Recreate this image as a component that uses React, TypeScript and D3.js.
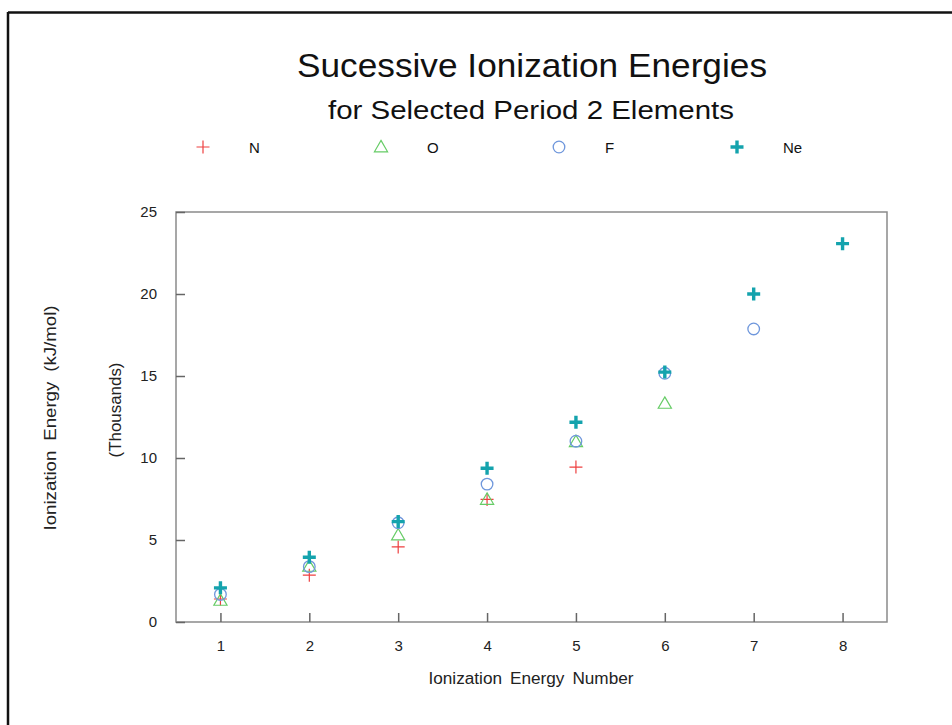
import React, { useRef, useEffect } from "react";
import { select, scaleLinear, axisBottom, axisLeft, symbol, symbolTriangle } from "d3";

// successive ionization energies, thousands of kJ/mol
const ionNumbers = [1, 2, 3, 4, 5, 6, 7, 8];
const nitrogen = [1.402, 2.856, 4.578, 7.475, 9.445];
const oxygen = [1.314, 3.388, 5.3, 7.469, 10.99, 13.327];
const fluorine = [1.681, 3.374, 6.05, 8.408, 11.023, 15.164, 17.868];
const neon = [2.081, 3.952, 6.122, 9.371, 12.177, 15.238, 19.999, 23.069];
const seriesNames = ["N", "O", "F", "Ne"];
const yTicks = [0, 5, 10, 15, 20, 25];

const FONT = "'Liberation Sans', Arial, Helvetica, sans-serif";
const colors = { N: "#ee4040", O: "#66cc66", F: "#6f97dc", Ne: "#14a3ad" };

const App = () => {
  const svgRef = useRef(null);

  useEffect(() => {
    const svg = select(svgRef.current);
    svg.selectAll("*").remove();

    const width = 952;
    const height = 725;
    const margin = { left: 176, right: 65, top: 212, bottom: 103 };

    // outer frame (only top + left show)
    svg.append("line").attr("x1", 8).attr("x2", width).attr("y1", 12.5).attr("y2", 12.5)
      .attr("stroke", "#111").attr("stroke-width", 2.5);
    svg.append("line").attr("x1", 8).attr("x2", 8).attr("y1", 12).attr("y2", height)
      .attr("stroke", "#111").attr("stroke-width", 2.5);

    // titles
    svg.append("text").attr("x", 532).attr("y", 77).attr("text-anchor", "middle")
      .style("font-family", FONT).style("font-size", "33px").attr("fill", "#111")
      .attr("textLength", 470).attr("lengthAdjust", "spacingAndGlyphs")
      .text("Sucessive Ionization Energies");
    svg.append("text").attr("x", 531).attr("y", 119).attr("text-anchor", "middle")
      .style("font-family", FONT).style("font-size", "26px").attr("fill", "#111")
      .attr("textLength", 406).attr("lengthAdjust", "spacingAndGlyphs")
      .text("for Selected Period 2 Elements");

    const xScale = scaleLinear().domain([0.5, 8.5]).range([margin.left, width - margin.right]);
    const yScale = scaleLinear().domain([0, 25]).range([height - margin.bottom, margin.top]);

    const plotW = width - margin.right - margin.left;
    const plotH = height - margin.bottom - margin.top;

    // plot box
    svg.append("rect").attr("x", margin.left).attr("y", margin.top)
      .attr("width", plotW).attr("height", plotH)
      .attr("fill", "none").attr("stroke", "#8a8a8a").attr("stroke-width", 1.5);

    // axes with inward ticks
    const xAxis = svg.append("g")
      .attr("transform", `translate(0,${height - margin.bottom})`)
      .call(axisBottom(xScale).tickValues(ionNumbers).tickSizeInner(-9).tickSizeOuter(0).tickPadding(18));
    const yAxis = svg.append("g")
      .attr("transform", `translate(${margin.left},0)`)
      .call(axisLeft(yScale).tickValues(yTicks).tickSizeInner(-9).tickSizeOuter(0).tickPadding(19));

    [xAxis, yAxis].forEach((ax) => {
      ax.select(".domain").remove();
      ax.selectAll("line").attr("stroke", "#666").attr("stroke-width", 1.5);
      ax.selectAll("text").style("font-family", FONT).style("font-size", "15px").attr("fill", "#222");
    });

    // axis titles
    svg.append("text").attr("x", 531).attr("y", 684).attr("text-anchor", "middle")
      .style("font-family", FONT).style("font-size", "16px").style("word-spacing", "3px").attr("fill", "#222")
      .attr("textLength", 205).attr("lengthAdjust", "spacingAndGlyphs")
      .text("Ionization Energy Number");
    svg.append("text").attr("transform", "translate(56,418) rotate(-90)").attr("text-anchor", "middle")
      .style("font-family", FONT).style("font-size", "16px").style("word-spacing", "4px").attr("fill", "#222")
      .attr("textLength", 225).attr("lengthAdjust", "spacingAndGlyphs")
      .text("Ionization Energy (kJ/mol)");
    svg.append("text").attr("transform", "translate(121,410) rotate(-90)").attr("text-anchor", "middle")
      .style("font-family", FONT).style("font-size", "16px").attr("fill", "#222")
      .attr("textLength", 95).attr("lengthAdjust", "spacingAndGlyphs")
      .text("(Thousands)");

    // marker drawers
    const drawMarker = (g, name, x, y) => {
      if (name === "N") {
        g.append("path").attr("d", `M${x - 6.5},${y}H${x + 6.5}M${x},${y - 6.5}V${y + 6.5}`)
          .attr("stroke", colors.N).attr("stroke-width", 1.2).attr("fill", "none");
      } else if (name === "O") {
        g.append("path").attr("d", symbol().type(symbolTriangle).size(75)())
          .attr("transform", `translate(${x},${y + 1})`)
          .attr("stroke", colors.O).attr("stroke-width", 1.2).attr("fill", "none");
      } else if (name === "F") {
        g.append("circle").attr("cx", x).attr("cy", y).attr("r", 5.8)
          .attr("stroke", colors.F).attr("stroke-width", 1.3).attr("fill", "none");
      } else {
        g.append("path").attr("d", `M${x - 6.5},${y}H${x + 6.5}M${x},${y - 6.5}V${y + 6.5}`)
          .attr("stroke", colors.Ne).attr("stroke-width", 3.4).attr("fill", "none");
      }
    };

    const series = [
      { name: "N", values: nitrogen },
      { name: "O", values: oxygen },
      { name: "F", values: fluorine },
      { name: "Ne", values: neon },
    ];

    const points = svg.append("g");
    series.forEach((s) => {
      s.values.forEach((v, i) => {
        drawMarker(points, s.name, xScale(ionNumbers[i]), yScale(v));
      });
    });

    // legend
    const legend = svg.append("g");
    seriesNames.forEach((name, i) => {
      const lx = 203 + i * 178;
      drawMarker(legend, name, lx, 147);
      legend.append("text").attr("x", lx + 46).attr("y", 153)
        .style("font-family", FONT).style("font-size", "15px").attr("fill", "#111")
        .text(name);
    });
  }, []);

  return (
    <svg
      ref={svgRef}
      width={952}
      height={725}
      style={{ position: "absolute", left: 0, top: 0, background: "#fff" }}
    />
  );
};

export default App;
